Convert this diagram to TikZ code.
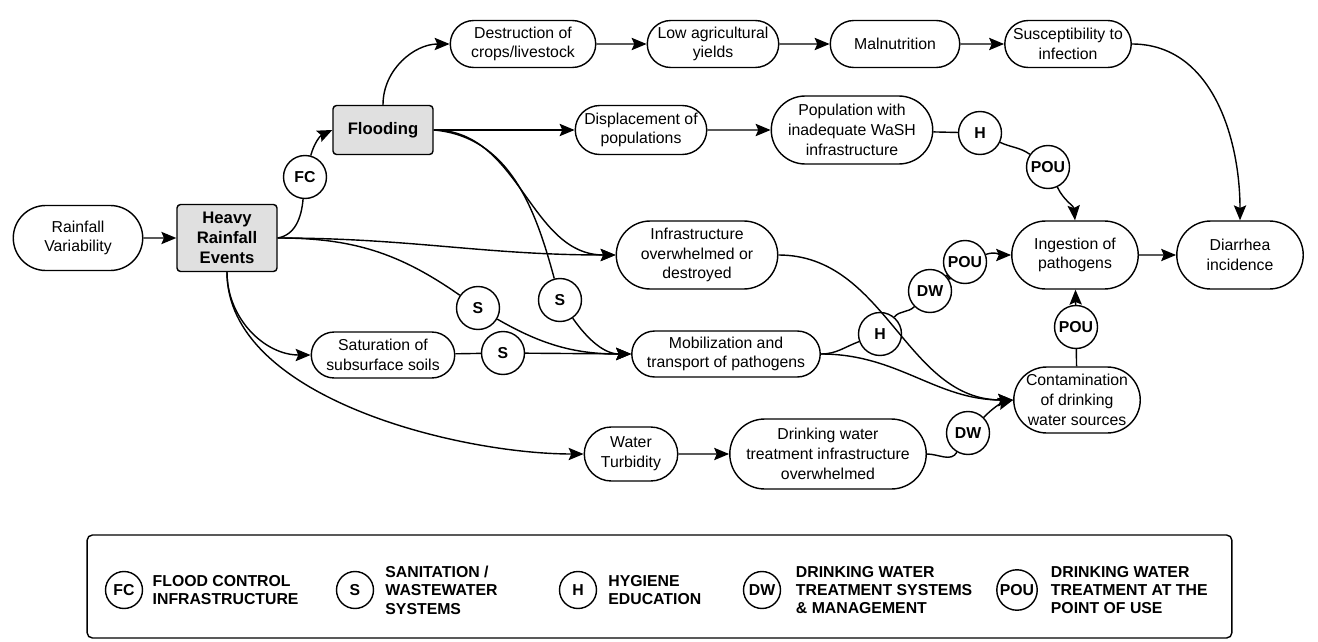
\documentclass[tikz,border=0pt]{standalone}
\usepackage{fontspec}
\setmainfont{Liberation Sans}
\usepackage{tikz}
\usetikzlibrary{shapes, shapes.misc, positioning, arrows.meta}
\tikzset{%
      >={Stealth[width=7pt, length=8.5pt, inset=1.5pt]}, % makes the arrow heads bold
      % rounded box for effects
      effect/.style={rounded rectangle, draw, align=center, inner sep=1pt,
        font=\fontsize{9}{11.2}\selectfont},
      % grey box for the climate events
      event/.style={rectangle, draw, fill=black!12, rounded corners=2pt, align=center,
        inner sep=2pt, font=\fontsize{9.5}{11.5}\selectfont\bfseries},
      % circle with the intervention
      ctrl/.style={circle, draw, fill=white, inner sep=1pt, minimum size=0.86cm,
        font=\fontsize{9}{10}\selectfont\bfseries},
      lgctrl/.style={circle, draw, inner sep=1pt, minimum size=0.74cm,
        font=\fontsize{9}{10}\selectfont\bfseries},
      lgtext/.style={align=left, inner sep=0pt, font=\fontsize{9}{10.5}\selectfont\bfseries},
      link/.style={line width=0.8pt},
    }

\begin{document}
\begin{tikzpicture}[x=0.02cm, y=-0.02cm, link]
        \useasboundingbox (0,0) rectangle (1318,642);
        % events
        \node[effect, minimum width=2.66cm, minimum height=1.3cm] (rainvar) at (78,238) {Rainfall\\Variability};
        \node[event, minimum width=2cm, minimum height=1.34cm] (heavy) at (227,238) {Heavy\\Rainfall\\Events};
        \node[event, minimum width=2cm, minimum height=0.98cm] (flood) at (383,130) {Flooding};
        % top row
        \node[effect, minimum width=2.98cm, minimum height=0.94cm] (crops) at (523,44) {Destruction of\\crops/livestock};
        \node[effect, minimum width=2.7cm, minimum height=0.94cm] (yields) at (713,44) {Low agricultural\\yields};
        \node[effect, minimum width=2.66cm, minimum height=0.94cm] (malnut) at (895,44) {Malnutrition};
        \node[effect, minimum width=2.6cm, minimum height=0.94cm] (suscept) at (1068,44) {Susceptibility to\\infection};
        % middle
        \node[effect, minimum width=2.7cm, minimum height=0.98cm] (displace) at (641,130) {Displacement of\\populations};
        \node[effect, minimum width=3.3cm, minimum height=1.36cm] (wash) at (852,130) {Population with\\inadequate WaSH\\infrastructure};
        \node[effect, minimum width=3.3cm, minimum height=1.36cm] (infra) at (697,255) {Infrastructure\\overwhelmed or\\destroyed};
        \node[effect, minimum width=2.6cm, minimum height=1.36cm] (ingest) at (1075,255) {Ingestion of\\pathogens};
        \node[effect, minimum width=2.6cm, minimum height=1.36cm] (diarrhea) at (1240,255) {Diarrhea\\incidence};
        \node[effect, minimum width=2.94cm, minimum height=0.92cm] (satur) at (383,355) {Saturation of\\subsurface soils};
        \node[effect, minimum width=3.84cm, minimum height=0.92cm] (mobil) at (726,354) {Mobilization and\\transport of pathogens};
        \node[effect, minimum width=2.6cm, minimum height=1.32cm] (contam) at (1077,400) {Contamination\\of drinking\\water sources};
        \node[effect, minimum width=1.94cm, minimum height=1.08cm] (turb) at (631,454) {Water\\Turbidity};
        \node[effect, minimum width=4cm, minimum height=1.4cm] (dwtreat) at (828,454) {Drinking water\\treatment infrastructure\\overwhelmed};
        % interventions
        \node[ctrl] (fc) at (305,177) {FC};
        \node[ctrl] (hwash) at (980,133) {H};
        \node[ctrl] (pouwash) at (1048,167) {POU};
        \node[ctrl] (sheavy) at (478,308) {S};
        \node[ctrl] (sflood) at (560,300) {S};
        \node[ctrl] (ssatur) at (503,353) {S};
        \node[ctrl] (hmobil) at (880,334) {H};
        \node[ctrl] (dwmobil) at (930,291) {DW};
        \node[ctrl] (poumobil) at (965,262) {POU};
        \node[ctrl] (poucontam) at (1076,327) {POU};
        \node[ctrl] (dwtreatc) at (968,433) {DW};

        % links
        \draw[->] (rainvar) -- (heavy);
        \draw (heavy.east) to[out=10,in=-95] (fc);
        \draw[->] (fc) to[out=75,in=205] (flood.west);
        \draw[->] (flood.north) to[out=90,in=180] (crops.west);
        \draw[->] (crops) -- (yields);
        \draw[->] (yields) -- (malnut);
        \draw[->] (malnut) -- (suscept);
        \draw[->] (suscept.east) to[out=0,in=90] (diarrhea.north);
        \draw[->] (flood.east) -- (displace.west);
        \draw[->] (displace) -- (wash);
        \draw (wash) -- (hwash);
        \draw (hwash) to[out=-25,in=145] (pouwash);
        \draw[->] (pouwash) to[out=-65,in=95] (ingest.north);
        \draw[->] (ingest) -- (diarrhea);
        \draw[->] (flood.east) to[out=0,in=180] (infra.west);
        \draw (flood.east) to[out=-5,in=105] (sflood);
        \draw[->] (sflood) to[out=-55,in=180] (mobil.west);
        \draw[->] (heavy.east) to[out=0,in=180] (infra.west);
        \draw (heavy.east) to[out=0,in=145] (sheavy);
        \draw[->] (sheavy) to[out=-30,in=180] (mobil.west);
        \draw[->] (heavy.south) to[out=-90,in=180] (satur.west);
        \draw (satur) -- (ssatur);
        \draw[->] (ssatur) -- (mobil.west);
        \draw[->] (heavy.south) to[out=-90,in=180,looseness=0.8] (turb.west);
        \draw[->] (turb) -- (dwtreat);
        \draw (dwtreat.east) to[out=0,in=-120] (dwtreatc);
        \draw[->] (dwtreatc) to[out=45,in=195] (contam.west);
        \draw[->] (infra.east) to[out=0,in=180] (contam.west);
        \draw[->] (mobil.east) to[out=0,in=180] (contam.west);
        \draw (mobil.east) to[out=0,in=200] (hmobil);
        \draw (hmobil) to[out=50,in=225] (dwmobil);
        \draw (dwmobil) to[out=45,in=230] (poumobil);
        \draw[->] (poumobil) to[out=20,in=180] (ingest.west);
        \draw (contam) -- (poucontam);
        \draw[->] (poucontam) -- (ingest);

        % legend
        \node[draw, rounded corners=3pt, minimum width=22.9cm, minimum height=2.06cm] (legend) at (659.5,586.5) {};
        \node[lgctrl] (lgfc) at (124,590) {FC};
        \node[lgtext, right=5pt of lgfc] {FLOOD CONTROL\\INFRASTRUCTURE};
        \node[lgctrl] (lgs) at (355,590) {S};
        \node[lgtext, right=6pt of lgs] {SANITATION /\\WASTEWATER\\SYSTEMS};
        \node[lgctrl] (lgh) at (578,590) {H};
        \node[lgtext, right=6pt of lgh] {HYGIENE\\EDUCATION};
        \node[lgctrl] (lgdw) at (762,590) {DW};
        \node[lgtext, right=8pt of lgdw] {DRINKING WATER\\TREATMENT SYSTEMS\\\& MANAGEMENT};
        \node[lgctrl] (lgpou) at (1017,590) {POU};
        \node[lgtext, right=7pt of lgpou] {DRINKING WATER\\TREATMENT AT THE\\POINT OF USE};
      \end{tikzpicture}
\end{document}
